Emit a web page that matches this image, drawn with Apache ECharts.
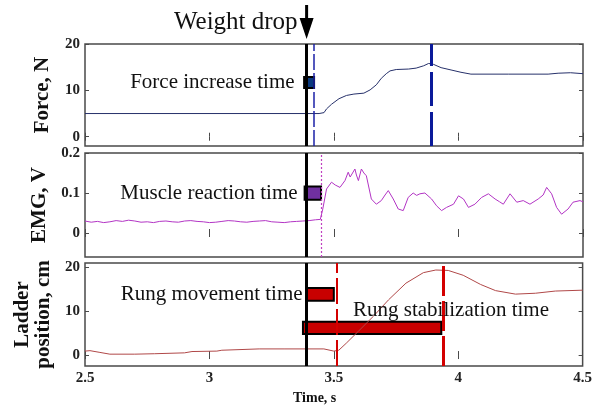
<!DOCTYPE html>
<html>
<head>
<meta charset="utf-8">
<script src="https://cdn.jsdelivr.net/npm/echarts@6/dist/echarts.min.js"></script>
<style>
  html, body { margin: 0; background: #fff; }
  #chart { width: 595px; height: 408px; }
</style>
</head>
<body>
<div id="chart"></div>
<script>
// time axis ticks
const timeTicks = [2.5, 3, 3.5, 4, 4.5];
const forceTicks = [0, 10, 20];
const emgTicks = [0, 0.1, 0.2];
const ladderTicks = [0, 10, 20];

// event times (s)
const dropTime = 3.39;
const forceStart = 3.42;
const forcePeak = 3.89;
const emgOnset = 3.447;
const rungMoveEnd = 3.507;
const rungStableEnd = 3.935;

// force, N  [time, value]
const forcePoints = [
  [2.5, 5], [3.44, 5], [3.46, 5.2], [3.47, 6.0], [3.49, 7.0], [3.52, 8.2], [3.55, 8.9],
  [3.58, 9.2], [3.62, 9.4], [3.645, 10.1], [3.67, 11.2], [3.69, 12.6], [3.71, 13.6],
  [3.725, 14.2], [3.75, 14.5], [3.8, 14.6], [3.83, 14.8], [3.86, 15.3], [3.88, 15.8],
  [3.9, 15.6], [3.93, 14.9], [3.97, 14.4], [4.01, 13.9], [4.05, 13.5], [4.2, 13.5],
  [4.36, 13.5], [4.4, 13.7], [4.45, 13.8], [4.5, 13.6]
];

// EMG, V  [time, value]
const emgPoints = [
  [2.5, 0.030], [2.525, 0.027], [2.55, 0.029], [2.575, 0.026], [2.6, 0.028], [2.625, 0.031],
  [2.65, 0.029], [2.675, 0.032], [2.7, 0.030], [2.725, 0.027], [2.75, 0.028], [2.775, 0.026],
  [2.8, 0.029], [2.825, 0.030], [2.85, 0.028], [2.875, 0.027], [2.9, 0.030], [2.925, 0.031],
  [2.95, 0.029], [2.975, 0.028], [3.0, 0.026], [3.025, 0.027], [3.05, 0.029], [3.075, 0.031],
  [3.1, 0.030], [3.125, 0.028], [3.15, 0.027], [3.175, 0.029], [3.2, 0.030], [3.225, 0.031],
  [3.25, 0.028], [3.275, 0.027], [3.3, 0.026], [3.325, 0.028], [3.35, 0.029], [3.375, 0.030],
  [3.4, 0.031], [3.425, 0.033], [3.445, 0.034], [3.455, 0.06], [3.47, 0.11], [3.49, 0.127],
  [3.505, 0.12], [3.524, 0.114], [3.544, 0.131], [3.557, 0.152], [3.565, 0.14], [3.571, 0.139],
  [3.584, 0.16], [3.59, 0.145], [3.598, 0.131], [3.61, 0.16], [3.62, 0.15], [3.63, 0.143],
  [3.65, 0.085], [3.67, 0.072], [3.69, 0.081], [3.705, 0.095], [3.718, 0.106], [3.738, 0.085],
  [3.758, 0.06], [3.778, 0.056], [3.798, 0.089], [3.818, 0.1], [3.832, 0.094], [3.845, 0.098],
  [3.865, 0.1], [3.892, 0.085], [3.912, 0.068], [3.932, 0.056], [3.952, 0.064], [3.98, 0.072],
  [4.0, 0.093], [4.02, 0.085], [4.04, 0.064], [4.066, 0.072], [4.093, 0.089], [4.12, 0.098],
  [4.147, 0.085], [4.165, 0.078], [4.18, 0.072], [4.207, 0.098], [4.234, 0.077], [4.26, 0.081],
  [4.287, 0.072], [4.32, 0.085], [4.34, 0.095], [4.354, 0.114], [4.374, 0.098], [4.394, 0.064],
  [4.414, 0.047], [4.44, 0.06], [4.46, 0.077], [4.488, 0.081], [4.5, 0.078]
];

// ladder position, cm  [time, value]
const ladderPoints = [
  [2.5, 0.9], [2.52, 1.0], [2.56, 0.6], [2.6, 0.2], [2.7, 0.2], [2.78, 0.3], [2.9, 0.5],
  [2.93, 0.8], [3.03, 0.9], [3.05, 1.1], [3.2, 1.4], [3.3, 1.4], [3.46, 1.4], [3.5, 0.9],
  [3.52, 1.1], [3.55, 2.7], [3.6, 5.5], [3.66, 8.9], [3.72, 12.6], [3.79, 16.4], [3.86, 18.8],
  [3.91, 19.4], [3.96, 19.3], [4.02, 18.2], [4.09, 16.1], [4.15, 14.7], [4.23, 13.9],
  [4.31, 14.1], [4.39, 14.6], [4.5, 14.8]
];

// annotation boxes [[x1, y1], [x2, y2]]
const forceBox = [[3.38, 10.5], [3.42, 12.9]];
const emgBox = [[3.382, 0.083], [3.448, 0.116]];
const rungMoveBox = [[3.39, 12.4], [3.50, 15.3]];
const rungStableBox = [[3.376, 4.8], [3.932, 7.6]];

const chart = echarts.init(document.getElementById('chart'));
const serif = 'Liberation Serif';
const frameColor = '#4a4a4a';

const grids = [
  { left: 85, right: 12, top: 44, height: 102 },
  { left: 85, right: 12, top: 153, height: 104 },
  { left: 85, right: 12, top: 263, height: 103 }
].map(g => Object.assign(g, { show: true, borderColor: frameColor, borderWidth: 1.5 }));

const yRanges = [[-2, 20], [-0.06, 0.2], [-2.5, 21]];
const yTicks = [forceTicks, emgTicks, ladderTicks];
const yNames = ['Force, N', 'EMG, V', 'Ladder\nposition, cm'];
const yGaps = [32, 30, 27];

const xAxes = [];
const yAxes = [];
for (let i = 0; i < 3; i++) {
  ['bottom', 'top'].forEach(pos => {
    const labelled = pos === 'bottom' && i === 2;
    xAxes.push({
      type: 'value', gridIndex: i, position: pos, min: 2.5, max: 4.5, interval: 0.5,
      axisLine: { show: false },
      axisTick: { inside: true, length: 4, lineStyle: { color: frameColor } },
      splitLine: { show: false },
      axisLabel: {
        show: labelled, margin: 5, color: '#222', fontFamily: serif, fontWeight: 'bold', fontSize: 15
      }
    });
  });
}
for (let i = 0; i < 3; i++) {
  ['left', 'right'].forEach(pos => {
    const labelled = pos === 'left';
    yAxes.push({
      type: 'value', gridIndex: i, position: pos, min: yRanges[i][0], max: yRanges[i][1],
      axisLine: { show: false },
      axisTick: { inside: true, length: 4, customValues: yTicks[i], lineStyle: { color: frameColor } },
      splitLine: { show: false },
      axisLabel: {
        show: labelled, customValues: yTicks[i], margin: 5,
        color: '#222', fontFamily: serif, fontWeight: 'bold', fontSize: 15
      },
      name: labelled ? yNames[i] : '',
      nameLocation: 'middle', nameRotate: 90, nameGap: yGaps[i],
      nameTextStyle: { fontFamily: serif, fontWeight: 'bold', fontSize: 21, color: '#111', lineHeight: 21 }
    });
  });
}

function vline(x, color, width, type) {
  return { xAxis: x, lineStyle: { color: color, width: width, type: type } };
}
function box(b, color) {
  return [
    { xAxis: b[0][0], yAxis: b[0][1], itemStyle: { color: color, opacity: 1, borderColor: '#000', borderWidth: 2 } },
    { xAxis: b[1][0], yAxis: b[1][1] }
  ];
}
const markLineBase = { symbol: 'none', silent: true, label: { show: false }, animation: false };
const markAreaBase = { silent: true, label: { show: false }, animation: false };

const series = [
  {
    type: 'line', xAxisIndex: 0, yAxisIndex: 0, data: forcePoints, showSymbol: false,
    lineStyle: { color: '#26306a', width: 1 }, animation: false,
    markLine: Object.assign({}, markLineBase, {
      data: [
        vline(dropTime, '#000', 3, 'solid'),
        vline(forceStart, '#1c22a8', 1.5, [16, 3]),
        vline(forcePeak, '#0a1a9a', 3, [34, 6])
      ]
    }),
    markArea: Object.assign({}, markAreaBase, { data: [box(forceBox, '#0b3a7e')] })
  },
  {
    type: 'line', xAxisIndex: 2, yAxisIndex: 2, data: emgPoints, showSymbol: false,
    lineStyle: { color: '#b234c4', width: 1 }, animation: false,
    markLine: Object.assign({}, markLineBase, {
      data: [
        vline(dropTime, '#000', 3, 'solid'),
        vline(emgOnset, '#c040c0', 1.2, [2, 2])
      ]
    }),
    markArea: Object.assign({}, markAreaBase, { data: [box(emgBox, '#7030a0')] })
  },
  {
    type: 'line', xAxisIndex: 4, yAxisIndex: 4, data: ladderPoints, showSymbol: false,
    lineStyle: { color: '#b04848', width: 1 }, animation: false,
    markLine: Object.assign({}, markLineBase, {
      data: [
        vline(dropTime, '#000', 3, 'solid'),
        vline(rungMoveEnd, '#d40000', 2, [26, 5]),
        vline(rungStableEnd, '#d40000', 3, [30, 5])
      ]
    }),
    markArea: Object.assign({}, markAreaBase, {
      data: [box(rungMoveBox, '#c80000'), box(rungStableBox, '#c80000')]
    })
  }
];

chart.setOption({
  animation: false,
  grid: grids,
  xAxis: xAxes,
  yAxis: yAxes,
  series: series
});

// annotations
const px = chart.convertToPixel({ xAxisIndex: 0 }, dropTime);
const textStyle = (t, x, y, size, align, bold) => ({
  type: 'text', x: x, y: y, z: 100,
  style: {
    text: t, fontFamily: serif, fontSize: size, fontWeight: bold ? 'bold' : 'normal',
    fill: '#111', align: align || 'right', verticalAlign: 'middle'
  }
});
chart.setOption({
  graphic: [
    { type: 'line', z: 100, shape: { x1: px, y1: 5, x2: px, y2: 22 }, style: { stroke: '#000', lineWidth: 3 } },
    { type: 'polygon', z: 100, shape: { points: [[px - 7, 18], [px + 7, 18], [px, 39]] }, style: { fill: '#000' } },
    textStyle('Weight drop', px - 9, 22, 25),
    textStyle('Force increase time', px - 12, 82, 21),
    textStyle('Muscle reaction time', px - 9, 193, 21),
    textStyle('Rung movement time', px - 4, 294, 21),
    textStyle('Rung stabilization time', 353, 310, 21, 'left'),
    textStyle('Time, s', 293, 398, 14, 'left', true)
  ]
});
</script>
</body>
</html>
